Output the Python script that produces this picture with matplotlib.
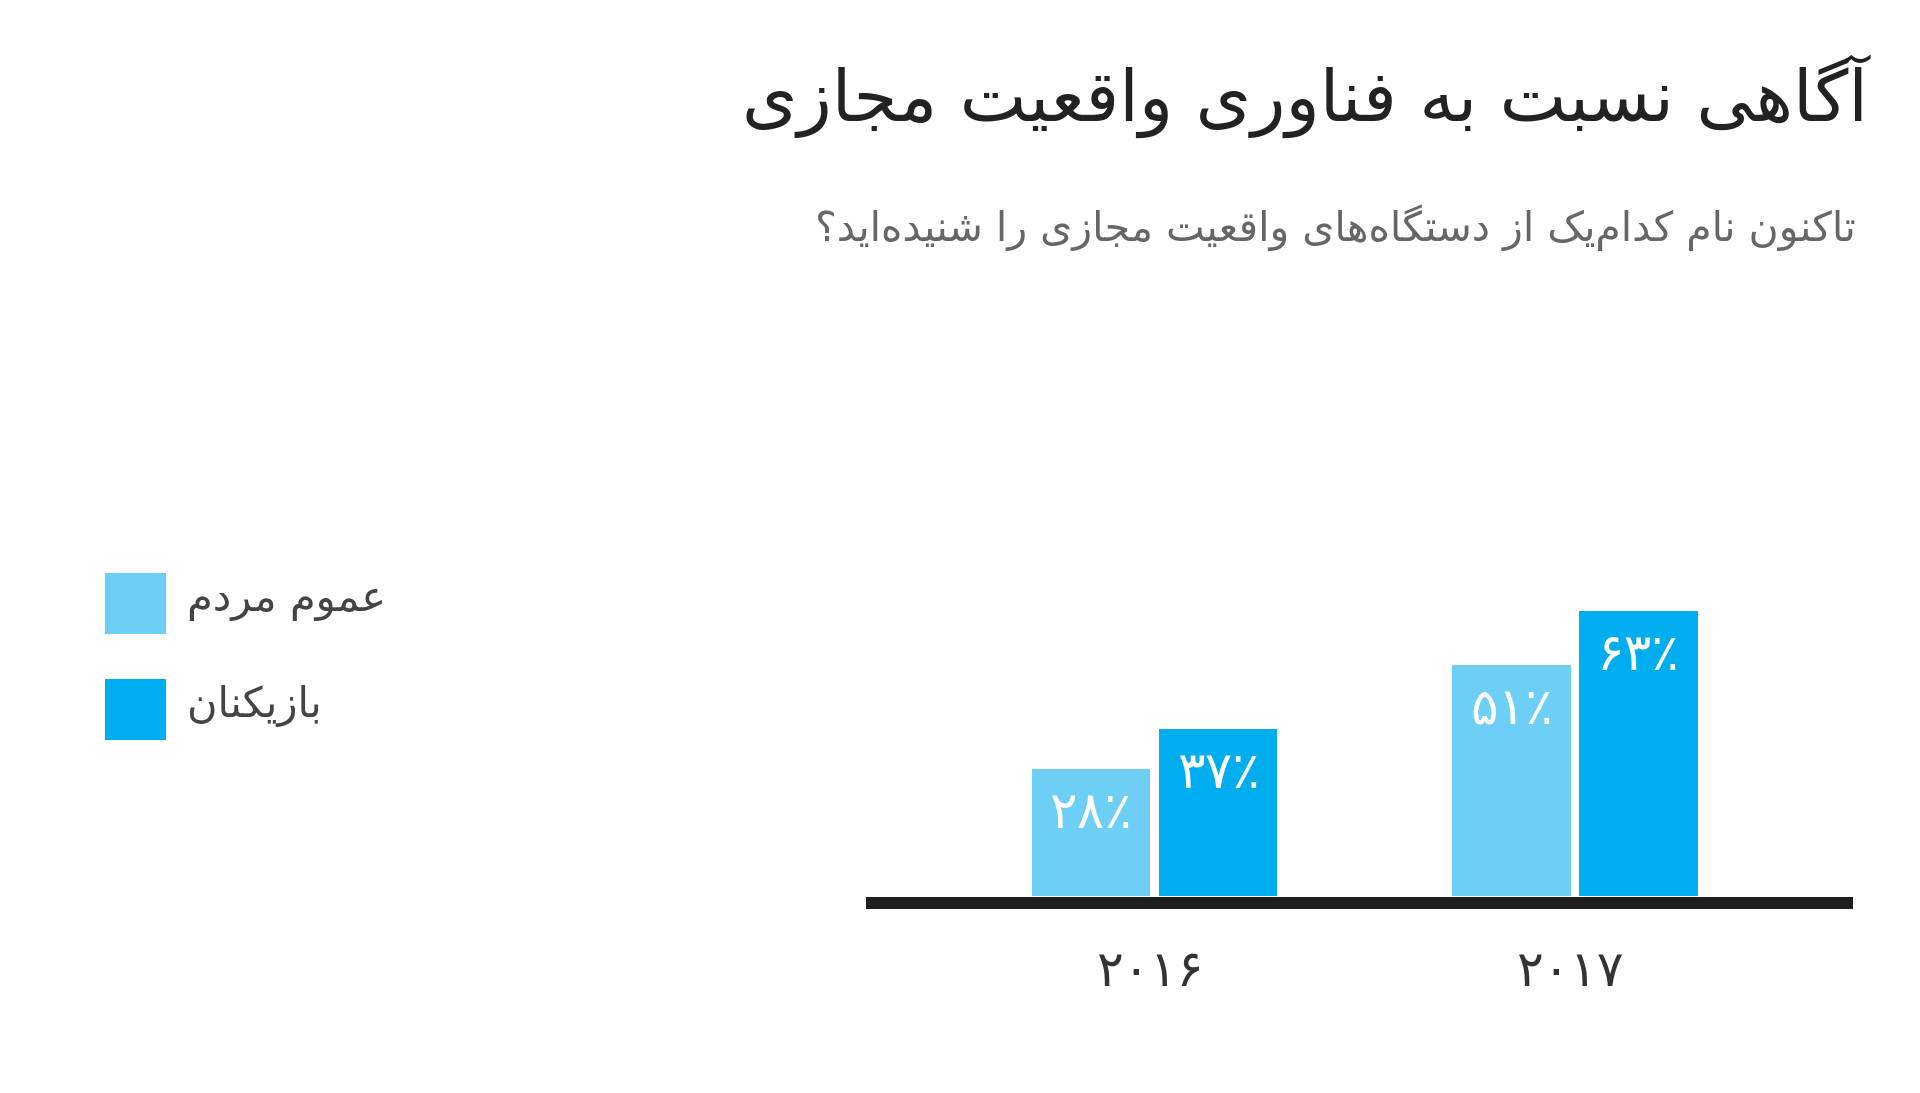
import matplotlib
matplotlib.use("Agg")
import matplotlib.pyplot as plt
from matplotlib.transforms import ScaledTranslation
from matplotlib.lines import Line2D

# ---------------- data ----------------
years = ["۲۰۱۶", "۲۰۱۷"]
series_names = ["عموم مردم", "بازیکنان"]
general_public = [28, 51]
gamers = [37, 63]
title_text = "آگاهی نسبت به فناوری واقعیت مجازی"
subtitle_text = "تاکنون نام کدام\u200cیک از دستگاه\u200cهای واقعیت مجازی را شنیده\u200cاید؟"

colors = ["#6dcff6", "#00aeef"]

# ---------------- simple Persian shaping ----------------
DUAL = {
    'ب': ('\uFE8F', '\uFE90', '\uFE91', '\uFE92'),
    'پ': ('\uFB56', '\uFB57', '\uFB58', '\uFB59'),
    'ت': ('\uFE95', '\uFE96', '\uFE97', '\uFE98'),
    'ث': ('\uFE99', '\uFE9A', '\uFE9B', '\uFE9C'),
    'ج': ('\uFE9D', '\uFE9E', '\uFE9F', '\uFEA0'),
    'چ': ('\uFB7A', '\uFB7B', '\uFB7C', '\uFB7D'),
    'ح': ('\uFEA1', '\uFEA2', '\uFEA3', '\uFEA4'),
    'خ': ('\uFEA5', '\uFEA6', '\uFEA7', '\uFEA8'),
    'س': ('\uFEB1', '\uFEB2', '\uFEB3', '\uFEB4'),
    'ش': ('\uFEB5', '\uFEB6', '\uFEB7', '\uFEB8'),
    'ص': ('\uFEB9', '\uFEBA', '\uFEBB', '\uFEBC'),
    'ض': ('\uFEBD', '\uFEBE', '\uFEBF', '\uFEC0'),
    'ط': ('\uFEC1', '\uFEC2', '\uFEC3', '\uFEC4'),
    'ظ': ('\uFEC5', '\uFEC6', '\uFEC7', '\uFEC8'),
    'ع': ('\uFEC9', '\uFECA', '\uFECB', '\uFECC'),
    'غ': ('\uFECD', '\uFECE', '\uFECF', '\uFED0'),
    'ف': ('\uFED1', '\uFED2', '\uFED3', '\uFED4'),
    'ق': ('\uFED5', '\uFED6', '\uFED7', '\uFED8'),
    'ک': ('\uFB8E', '\uFB8F', '\uFB90', '\uFB91'),
    'گ': ('\uFB92', '\uFB93', '\uFB94', '\uFB95'),
    'ل': ('\uFEDD', '\uFEDE', '\uFEDF', '\uFEE0'),
    'م': ('\uFEE1', '\uFEE2', '\uFEE3', '\uFEE4'),
    'ن': ('\uFEE5', '\uFEE6', '\uFEE7', '\uFEE8'),
    'ه': ('\uFEE9', '\uFEEA', '\uFEEB', '\uFEEC'),
    'ی': ('\uFBFC', '\uFBFD', '\uFBFE', '\uFBFF'),
    'ئ': ('\uFE89', '\uFE8A', '\uFE8B', '\uFE8C'),
}
RIGHT = {
    'ا': ('\uFE8D', '\uFE8E'),
    'آ': ('\uFE81', '\uFE82'),
    'أ': ('\uFE83', '\uFE84'),
    'د': ('\uFEA9', '\uFEAA'),
    'ذ': ('\uFEAB', '\uFEAC'),
    'ر': ('\uFEAD', '\uFEAE'),
    'ز': ('\uFEAF', '\uFEB0'),
    'ژ': ('\uFB8A', '\uFB8B'),
    'و': ('\uFEED', '\uFEEE'),
}


def shape(text):
    out = []
    n = len(text)
    for i, ch in enumerate(text):
        if ch == '\u200c':
            continue
        prev = text[i - 1] if i > 0 else ''
        nxt = text[i + 1] if i + 1 < n else ''
        joins_prev = prev in DUAL
        if ch in DUAL:
            joins_next = nxt in DUAL or nxt in RIGHT
            f = DUAL[ch]
            if joins_prev and joins_next:
                out.append(f[3])
            elif joins_prev:
                out.append(f[1])
            elif joins_next:
                out.append(f[2])
            else:
                out.append(f[0])
        elif ch in RIGHT:
            f = RIGHT[ch]
            out.append(f[1] if joins_prev else f[0])
        else:
            out.append(ch)
    return ''.join(reversed(out))


FA_DIGITS = str.maketrans("0123456789", "۰۱۲۳۴۵۶۷۸۹")


def fa_pct(v):
    return str(v).translate(FA_DIGITS) + "٪"


plt.rcParams['font.family'] = ['DejaVu Sans']

W, H, DPI = 1920, 1093, 100
fig = plt.figure(figsize=(W / DPI, H / DPI), dpi=DPI)
fig.patch.set_facecolor("white")

# axes geometry (pixels)
ax_left, ax_right = 866, 1853
ax_base, ax_top = 896, 300
px_per_unit_y = 4.52
group_px = 420.5
group0_px = 1154.5

ax = fig.add_axes([ax_left / W, 1 - ax_base / H,
                   (ax_right - ax_left) / W, (ax_base - ax_top) / H])
ax.set_xlim((ax_left - group0_px) / group_px, (ax_right - group0_px) / group_px)
ax.set_ylim(0, (ax_base - ax_top) / px_per_unit_y)
ax.axis("off")

bar_w = 0.281
offset = 0.151
xs = list(range(len(years)))
series = [general_public, gamers]
for k, (vals, name, col) in enumerate(zip(series, series_names, colors)):
    pos = [x + (k - 0.5) * 2 * offset for x in xs]
    bars = ax.bar(pos, vals, width=bar_w, color=col, label=shape(name), zorder=2)
    for b, v in zip(bars, vals):
        ax.annotate(fa_pct(v), (b.get_x() + b.get_width() / 2, v),
                    xytext=(0, -45), textcoords="offset pixels",
                    ha="center", va="center", color="white", fontsize=37, zorder=3)

# baseline
shift = ScaledTranslation(0, -7 / DPI, fig.dpi_scale_trans)
ax.add_line(Line2D([0, 1], [0, 0], transform=ax.get_yaxis_transform() + shift,
                   color="#1e1e1e", linewidth=12 * 72 / DPI, solid_capstyle="butt",
                   zorder=4, clip_on=False))

# year labels
for x, yl in zip(xs, years):
    ax.annotate(yl, (x, 0), xytext=(-5, -76), textcoords="offset pixels",
                ha="center", va="center", color="#333333", fontsize=36,
                annotation_clip=False)

# title & subtitle
fig.text(1868 / W, 1 - 96 / H, shape(title_text), ha="right", va="center",
         fontsize=51, color="#222222")
fig.text(1856 / W, 1 - 228 / H, shape(subtitle_text), ha="right", va="center",
         fontsize=29.5, color="#666666")

# legend
fs_leg = 30
fs_px = fs_leg * DPI / 72
leg = ax.legend(loc="upper left", bbox_to_anchor=(105 / W, 1 - 573 / H),
                bbox_transform=fig.transFigure, frameon=False, fontsize=fs_leg,
                handlelength=61 / fs_px, handleheight=1.875,
                handletextpad=0.5, labelspacing=45 / fs_px, borderpad=0, borderaxespad=0)
up = ScaledTranslation(0, 6 / DPI, fig.dpi_scale_trans)
for t in leg.get_texts():
    t.set_color("#444444")
    t.set_transform(t.get_transform() + up)

fig.savefig("out.png", dpi=DPI, facecolor="white")
